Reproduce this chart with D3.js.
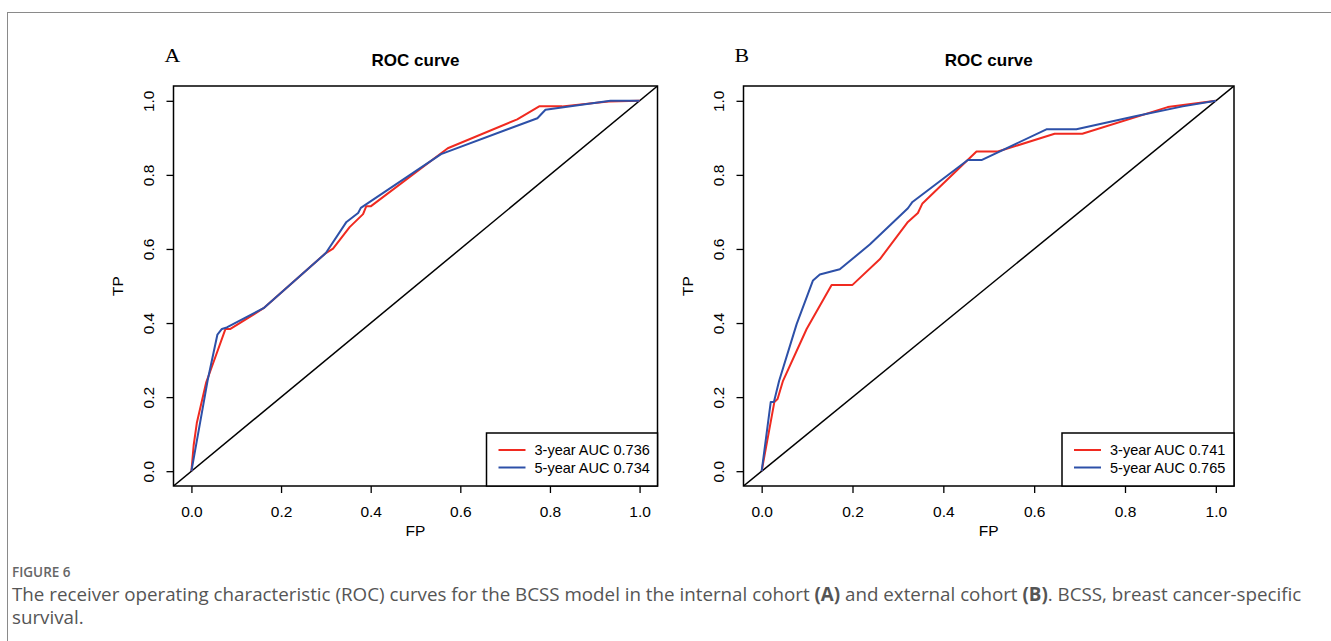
<!DOCTYPE html>
<html>
<head>
<meta charset="utf-8">
<script src="https://cdn.jsdelivr.net/npm/d3@7"></script>
<style>
  body { margin: 0; background: #fff; }
</style>
</head>
<body>
<script>
// ticks shared by both panels
var ticks = [0, 0.2, 0.4, 0.6, 0.8, 1.0];

// panel A - internal cohort
var fpA3 = [0, 0.005, 0.012, 0.033, 0.045, 0.076, 0.087, 0.161, 0.30, 0.316, 0.353, 0.383, 0.39, 0.40, 0.572, 0.727, 0.776, 0.827, 0.931, 1];
var tpA3 = [0, 0.07, 0.13, 0.24, 0.28, 0.384, 0.384, 0.44, 0.589, 0.601, 0.659, 0.694, 0.715, 0.715, 0.872, 0.950, 0.985, 0.985, 0.998, 1];
var fpA5 = [0, 0.036, 0.058, 0.068, 0.079, 0.161, 0.30, 0.346, 0.372, 0.378, 0.557, 0.772, 0.79, 0.935, 1];
var tpA5 = [0, 0.244, 0.369, 0.384, 0.388, 0.44, 0.589, 0.673, 0.697, 0.711, 0.856, 0.953, 0.976, 1.0, 1];
var legendA = ["3-year AUC 0.736", "5-year AUC 0.734"];

// panel B - external cohort
var fpB3 = [0, 0.028, 0.035, 0.047, 0.099, 0.154, 0.2, 0.26, 0.322, 0.344, 0.354, 0.473, 0.52, 0.645, 0.706, 0.894, 1];
var tpB3 = [0, 0.187, 0.195, 0.244, 0.384, 0.503, 0.503, 0.572, 0.673, 0.697, 0.723, 0.863, 0.863, 0.911, 0.911, 0.983, 1];
var fpB5 = [0, 0.02, 0.027, 0.0385, 0.077, 0.113, 0.128, 0.172, 0.238, 0.322, 0.332, 0.454, 0.484, 0.627, 0.693, 0.825, 0.927, 1];
var tpB5 = [0, 0.187, 0.187, 0.244, 0.397, 0.515, 0.531, 0.545, 0.612, 0.71, 0.727, 0.84, 0.84, 0.923, 0.923, 0.959, 0.985, 1];
var legendB = ["3-year AUC 0.741", "5-year AUC 0.765"];

var red = "#f02a20";
var blue = "#2d50a8";

var width = 1331, height = 641;

var svg = d3.select("body").append("svg")
            .attr("width", width)
            .attr("height", height);

// figure frame (only left + top edges visible)
svg.append("rect")
   .attr("x", 7.5).attr("y", 12.5)
   .attr("width", width + 20).attr("height", height + 20)
   .attr("fill", "none")
   .attr("stroke", "#8a8a8a")
   .attr("stroke-width", 1);

drawPanel({ id: "A", left: 173.5, right: 657.5, fp3: fpA3, tp3: tpA3, fp5: fpA5, tp5: tpA5, legend: legendA, legendW: 171 });
drawPanel({ id: "B", left: 743.5, right: 1234, fp3: fpB3, tp3: tpB3, fp5: fpB5, tp5: tpB5, legend: legendB, legendW: 172 });

function drawPanel(cfg) {
  var top = 86, bottom = 486;
  var x = d3.scaleLinear().domain([-0.04, 1.04]).range([cfg.left, cfg.right]);
  var y = d3.scaleLinear().domain([-0.04, 1.04]).range([bottom, top]);
  var g = svg.append("g");
  var font = "'Liberation Sans', Arial, Helvetica, sans-serif";

  g.append("clipPath").attr("id", "clip" + cfg.id)
   .append("rect")
   .attr("x", cfg.left).attr("y", top)
   .attr("width", cfg.right - cfg.left).attr("height", bottom - top);

  // reference line abline(0,1)
  g.append("line")
   .attr("x1", x(-0.04)).attr("y1", y(-0.04))
   .attr("x2", x(1.04)).attr("y2", y(1.04))
   .attr("stroke", "#000")
   .attr("stroke-width", 1.5)
   .attr("clip-path", "url(#clip" + cfg.id + ")");

  var line = d3.line().x(function(d){return x(d[0])}).y(function(d){return y(d[1])});

  g.append("path").datum(d3.zip(cfg.fp3, cfg.tp3))
   .attr("d", line)
   .attr("fill", "none").attr("stroke", red).attr("stroke-width", 2)
   .attr("stroke-linejoin", "round");

  g.append("path").datum(d3.zip(cfg.fp5, cfg.tp5))
   .attr("d", line)
   .attr("fill", "none").attr("stroke", blue).attr("stroke-width", 2)
   .attr("stroke-linejoin", "round");

  // axes
  var xAxis = g.append("g")
               .attr("transform", "translate(0," + bottom + ")")
               .call(d3.axisBottom(x).tickValues(ticks).tickFormat(d3.format(".1f")).tickSize(7).tickPadding(13));
  var yAxis = g.append("g")
               .attr("transform", "translate(" + cfg.left + ",0)")
               .call(d3.axisLeft(y).tickValues(ticks).tickFormat(d3.format(".1f")).tickSize(7));
  [xAxis, yAxis].forEach(function(a) {
    a.select(".domain").remove();
    a.selectAll("line").attr("stroke", "#000").attr("stroke-width", 1.3);
    a.selectAll("text").attr("fill", "#000").style("font-family", font).style("font-size", "15.5px");
  });
  yAxis.selectAll("text")
       .attr("x", null).attr("dy", null)
       .attr("text-anchor", "middle")
       .attr("transform", "translate(-20,0) rotate(-90)");

  // box
  g.append("rect")
   .attr("x", cfg.left).attr("y", top)
   .attr("width", cfg.right - cfg.left).attr("height", bottom - top)
   .attr("fill", "none").attr("stroke", "#000").attr("stroke-width", 1.5);

  var cx = (cfg.left + cfg.right) / 2;

  g.append("text")
   .attr("x", cx).attr("y", 66)
   .attr("text-anchor", "middle")
   .style("font-family", font).style("font-size", "17px").style("font-weight", "bold")
   .text("ROC curve");

  g.append("text")
   .attr("x", cx).attr("y", 536)
   .attr("text-anchor", "middle")
   .style("font-family", font).style("font-size", "15.5px")
   .text("FP");

  g.append("text")
   .attr("transform", "translate(" + (cfg.left - 51) + "," + ((top + bottom) / 2) + ") rotate(-90)")
   .attr("text-anchor", "middle")
   .style("font-family", font).style("font-size", "15.5px")
   .text("TP");

  // panel letter
  g.append("text")
   .attr("transform", "translate(" + (cfg.left - 9) + ",62) scale(1.15,1)")
   .style("font-family", "'Liberation Serif', 'Times New Roman', serif")
   .style("font-size", "19px")
   .text(cfg.id);

  // legend (bottom right)
  var lw = cfg.legendW, lh = 53;
  var lx = cfg.right - lw, ly = bottom - lh;
  var leg = g.append("g");
  leg.append("rect")
     .attr("x", lx).attr("y", ly).attr("width", lw).attr("height", lh)
     .attr("fill", "#fff").attr("stroke", "#000").attr("stroke-width", 1.5);
  var cols = [red, blue];
  cfg.legend.forEach(function(t, i) {
    var ry = ly + 17 + i * 17.5;
    leg.append("line")
       .attr("x1", lx + 12).attr("x2", lx + 39)
       .attr("y1", ry).attr("y2", ry)
       .attr("stroke", cols[i]).attr("stroke-width", 2);
    leg.append("text")
       .attr("x", lx + 48).attr("y", ry + 5)
       .style("font-family", font).style("font-size", "14.5px")
       .text(t);
  });
}

// caption
var capFont = "'Open Sans', 'Noto Sans', sans-serif";
svg.append("text")
   .attr("x", 12).attr("y", 577)
   .attr("fill", "#666")
   .style("font-family", capFont).style("font-size", "13.5px").style("font-weight", "600")
   .text("FIGURE 6");

var cap1 = svg.append("text")
   .attr("x", 12).attr("y", 601)
   .attr("fill", "#555")
   .style("font-family", capFont).style("font-size", "17px");
cap1.append("tspan").text("The receiver operating characteristic (ROC) curves for the BCSS model in the internal cohort ");
cap1.append("tspan").style("font-weight", "bold").text("(A)");
cap1.append("tspan").text(" and external cohort ");
cap1.append("tspan").style("font-weight", "bold").text("(B)");
cap1.append("tspan").text(". BCSS, breast cancer-specific");

// fit the first caption line to the width it has in the figure
var capW = cap1.node().getComputedTextLength();
var capSize = 17 * 1290 / capW;
cap1.style("font-size", capSize + "px");

svg.append("text")
   .attr("x", 12).attr("y", 624)
   .attr("fill", "#555")
   .style("font-family", capFont).style("font-size", capSize + "px")
   .text("survival.");
</script>
</body>
</html>
